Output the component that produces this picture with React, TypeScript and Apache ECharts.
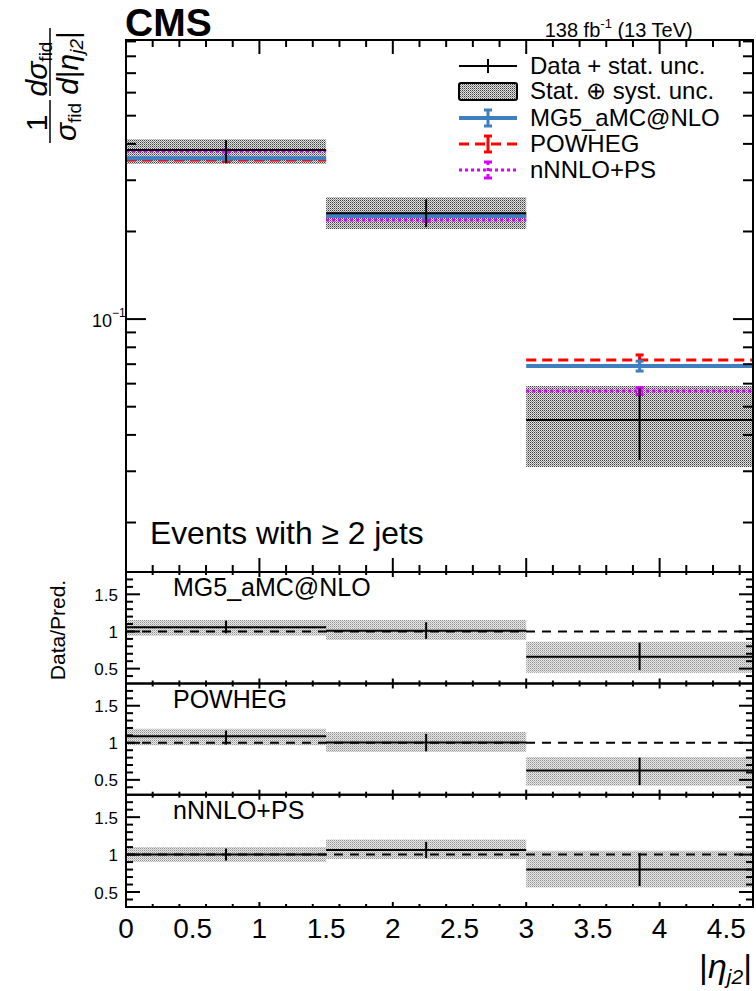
import React, { useEffect, useRef } from 'react';
import * as echarts from 'echarts';

const FONT = '"Liberation Sans", Arial, Helvetica, sans-serif';

// ---------- binning ----------
const binEdges = [0, 1.5, 3, 4.7];
const binCenters = [0.75, 2.25, 3.85];

// ---------- main panel: 1/sigma dsigma/d|eta_j2| ----------
const dataValues = [0.381, 0.231, 0.045];
const dataStatLow = [0.343, 0.207, 0.0328];
const dataStatHigh = [0.412, 0.258, 0.0579];
const dataTotalLow = [0.341, 0.204, 0.031];
const dataTotalHigh = [0.415, 0.262, 0.0589];
const mg5Values = [0.357, 0.226, 0.069];
const mg5Errors = [0.004, 0.003, 0.0027];
const powhegValues = [0.352, 0.2262, 0.0723];
const powhegErrors = [0.004, 0.003, 0.003];
const nnloValues = [0.378, 0.219, 0.0566];
const nnloErrors = [0.003, 0.002, 0.0015];

// ---------- ratio panels: Data / prediction ----------
const ratioNames = ['MG5_aMC@NLO', 'POWHEG', 'nNNLO+PS'];
const ratioMG5 = [1.057, 1.01, 0.66];
const ratioMG5StatLow = [0.976, 0.9, 0.48];
const ratioMG5StatHigh = [1.146, 1.124, 0.85];
const ratioMG5TotalLow = [0.943, 0.885, 0.443];
const ratioMG5TotalHigh = [1.155, 1.155, 0.862];
const ratioPowheg = [1.09, 1.005, 0.625];
const ratioPowhegStatLow = [0.976, 0.885, 0.43];
const ratioPowhegStatHigh = [1.165, 1.12, 0.8];
const ratioPowhegTotalLow = [0.966, 0.875, 0.42];
const ratioPowhegTotalHigh = [1.19, 1.145, 0.81];
const ratioNnlo = [1.0, 1.06, 0.8];
const ratioNnloStatLow = [0.92, 0.955, 0.58];
const ratioNnloStatHigh = [1.08, 1.17, 1.02];
const ratioNnloTotalLow = [0.9, 0.94, 0.56];
const ratioNnloTotalHigh = [1.1, 1.2, 1.05];
const ratioReference = [1];

// ---------- axes ----------
const xRange = [0, 4.7];
const xLabelInterval = 0.5;
const mainYRange = [0.01352, 0.91];
const ratioYRange = [0.3, 1.8];
const xMajorTicks = [0, 1, 2, 3, 4];
const xMinorTicks = [0.2, 0.4, 0.6, 0.8, 1.2, 1.4, 1.6, 1.8, 2.2, 2.4, 2.6, 2.8, 3.2, 3.4, 3.6, 3.8, 4.2, 4.4, 4.6];
const mainYMajorTicks = [0.1];
const mainYMinorTicks = [0.02, 0.03, 0.04, 0.05, 0.06, 0.07, 0.08, 0.09, 0.2, 0.3, 0.4, 0.5, 0.6, 0.7, 0.8, 0.9];
const mainYTickBase = ['10'];
const mainYTickExp = ['\u22121'];
const ratioYMajorTicks = [0.5, 1, 1.5];
const ratioYMinorTicks = [0.4, 0.6, 0.7, 0.8, 0.9, 1.1, 1.2, 1.3, 1.4, 1.6, 1.7];
const ratioYTickLabels = ['0.5', '1', '1.5'];

// ---------- legend ----------
const legendLabels = ['Data + stat. unc.', 'Stat. \u2295 syst. unc.', 'MG5_aMC@NLO', 'POWHEG', 'nNNLO+PS'];

const MG5_COLOR = '#3f7fbf';
const POWHEG_COLOR = '#ff0000';
const NNLO_COLOR = '#d800ff';

let measureCtx: CanvasRenderingContext2D | null = null;
function textWidth(s: string, size: number, italic?: boolean, bold?: boolean) {
  if (!measureCtx) measureCtx = document.createElement('canvas').getContext('2d');
  measureCtx!.font = `${italic ? 'italic ' : ''}${bold ? 'bold ' : ''}${size}px ${FONT}`;
  return measureCtx!.measureText(s).width;
}

type Seg = { t: string; size: number; dy?: number; italic?: boolean; bold?: boolean };
function textStyle(text: string, size: number, align: string, italic?: boolean, bold?: boolean) {
  return {
    text,
    fontSize: size,
    fontFamily: FONT,
    fontStyle: italic ? 'italic' : 'normal',
    fontWeight: bold ? 'bold' : 'normal',
    fill: '#000',
    align,
    textAlign: align,
    verticalAlign: 'middle',
    textVerticalAlign: 'middle',
  };
}
function runText(x: number, y: number, segs: Seg[], align: 'left' | 'center' | 'right') {
  const widths = segs.map((s) => textWidth(s.t, s.size, s.italic, s.bold));
  const total = widths.reduce((a, b) => a + b, 0);
  let cx = align === 'left' ? x : align === 'center' ? x - total / 2 : x - total;
  return segs.map((s, i) => {
    const el = { type: 'text', x: cx, y: y + (s.dy || 0), style: textStyle(s.t, s.size, 'left', s.italic, s.bold) };
    cx += widths[i];
    return el;
  });
}

function makePattern(colors: string[][]) {
  const h = colors.length;
  const w = colors[0].length;
  const c = document.createElement('canvas');
  c.width = w;
  c.height = h;
  const g = c.getContext('2d')!;
  colors.forEach((row, y) =>
    row.forEach((col, x) => {
      g.fillStyle = col;
      g.fillRect(x, y, 1, 1);
    })
  );
  return { image: c, repeat: 'repeat', imageWidth: w, imageHeight: h };
}

function buildOption() {
  const mainPattern = makePattern([
    ['#3c3c3c', '#e2e2e2'],
    ['#e2e2e2', '#8c8c8c'],
  ]);
  const ratioPattern = makePattern([
    ['#8e8e8e', '#e8e8e8'],
    ['#e8e8e8', '#bcbcbc'],
  ]);

  const grids = [
    { left: 126, top: 40, width: 627, height: 532 },
    { left: 126, top: 572, width: 627, height: 111.5 },
    { left: 126, top: 683.5, width: 627, height: 111.2 },
    { left: 126, top: 794.7, width: 627, height: 112.3 },
  ];

  const xAxes = grids.map((_, i) => ({
    gridIndex: i,
    type: 'value',
    min: xRange[0],
    max: xRange[1],
    interval: xLabelInterval,
    position: 'bottom',
    axisLine: { show: false, onZero: false },
    axisTick: { show: false },
    splitLine: { show: false },
    axisLabel: {
      show: i === 3,
      showMaxLabel: false,
      fontSize: 28,
      fontFamily: FONT,
      color: '#000',
      margin: 7,
    },
  }));
  const yAxes: any[] = grids.map((_, i) =>
    i === 0
      ? { gridIndex: 0, type: 'log', logBase: 10, min: mainYRange[0], max: mainYRange[1], show: false }
      : { gridIndex: i, type: 'value', min: ratioYRange[0], max: ratioYRange[1], show: false }
  );

  const bandSeries = (g: number, lows: number[], highs: number[], pattern: any) => ({
    type: 'custom',
    xAxisIndex: g,
    yAxisIndex: g,
    silent: true,
    clip: false,
    data: lows.map((lo, i) => [binEdges[i], binEdges[i + 1], lo, highs[i]]),
    encode: { x: [0, 1], y: [2, 3] },
    renderItem: (params: any, api: any) => {
      const p0 = api.coord([api.value(0), api.value(3)]);
      const p1 = api.coord([api.value(1), api.value(2)]);
      return {
        type: 'rect',
        shape: { x: p0[0], y: p0[1], width: p1[0] - p0[0], height: p1[1] - p0[1] },
        style: { fill: pattern },
      };
    },
  });

  const dataSeries = (g: number, vals: number[], lo: number[], hi: number[]) => ({
    type: 'custom',
    xAxisIndex: g,
    yAxisIndex: g,
    silent: true,
    clip: false,
    data: vals.map((v, i) => [binEdges[i], binEdges[i + 1], v, lo[i], hi[i], binCenters[i]]),
    encode: { x: [0, 1, 5], y: [2, 3, 4] },
    renderItem: (params: any, api: any) => {
      const a = api.coord([api.value(0), api.value(2)]);
      const b = api.coord([api.value(1), api.value(2)]);
      const t = api.coord([api.value(5), api.value(4)]);
      const u = api.coord([api.value(5), api.value(3)]);
      const st = { stroke: '#000', lineWidth: 2 };
      return {
        type: 'group',
        children: [
          { type: 'line', shape: { x1: a[0], y1: a[1], x2: b[0], y2: b[1] }, style: st },
          { type: 'line', shape: { x1: t[0], y1: t[1], x2: u[0], y2: u[1] }, style: st },
        ],
      };
    },
  });

  const theorySeries = (vals: number[], errs: number[], color: string, width: number, dash: number[] | null) => ({
    type: 'custom',
    xAxisIndex: 0,
    yAxisIndex: 0,
    silent: true,
    clip: false,
    data: vals.map((v, i) => [binEdges[i], binEdges[i + 1], v, v - errs[i], v + errs[i], binCenters[i]]),
    encode: { x: [0, 1, 5], y: [2, 3, 4] },
    renderItem: (params: any, api: any) => {
      const a = api.coord([api.value(0), api.value(2)]);
      const b = api.coord([api.value(1), api.value(2)]);
      const t = api.coord([api.value(5), api.value(4)]);
      const u = api.coord([api.value(5), api.value(3)]);
      const ls: any = { stroke: color, lineWidth: width };
      if (dash) ls.lineDash = dash;
      const es: any = { stroke: color, lineWidth: 3 };
      return {
        type: 'group',
        children: [
          { type: 'line', shape: { x1: a[0], y1: a[1], x2: b[0], y2: b[1] }, style: ls },
          { type: 'line', shape: { x1: t[0], y1: t[1], x2: u[0], y2: u[1] }, style: es },
          { type: 'line', shape: { x1: t[0] - 4, y1: t[1], x2: t[0] + 4, y2: t[1] }, style: es },
          { type: 'line', shape: { x1: u[0] - 4, y1: u[1], x2: u[0] + 4, y2: u[1] }, style: es },
        ],
      };
    },
  });

  const referenceSeries = (g: number) => ({
    type: 'custom',
    xAxisIndex: g,
    yAxisIndex: g,
    silent: true,
    clip: false,
    data: ratioReference.map((r) => [xRange[0], xRange[1], r]),
    encode: { x: [0, 1], y: 2 },
    renderItem: (params: any, api: any) => {
      const a = api.coord([api.value(0), api.value(2)]);
      const b = api.coord([api.value(1), api.value(2)]);
      return {
        type: 'line',
        shape: { x1: a[0], y1: a[1], x2: b[0], y2: b[1] },
        style: { stroke: '#000', lineWidth: 2, lineDash: [9, 7] },
      };
    },
  });

  const tickSeries = (
    g: number,
    yRef: number,
    yMajor: number[],
    yMinor: number[],
    lens: { xMaj: number; xMin: number; yMaj: number; yMin: number }
  ) => ({
    type: 'custom',
    xAxisIndex: g,
    yAxisIndex: g,
    silent: true,
    clip: false,
    data: [
      ...xMajorTicks.map((v) => [v, yRef, 0]),
      ...xMinorTicks.map((v) => [v, yRef, 1]),
      ...yMajor.map((v) => [xRange[0], v, 2]),
      ...yMinor.map((v) => [xRange[0], v, 3]),
      [xRange[0], yRef, 4],
    ],
    encode: { x: 0, y: 1 },
    renderItem: (params: any, api: any) => {
      const cs = params.coordSys;
      const kind = api.value(2);
      const p = api.coord([api.value(0), api.value(1)]);
      const st = { stroke: '#000', lineWidth: 2 };
      if (kind === 4) {
        return {
          type: 'rect',
          shape: { x: cs.x, y: cs.y, width: cs.width, height: cs.height },
          style: { fill: 'none', stroke: '#000', lineWidth: 2 },
        };
      }
      if (kind < 2) {
        const L = kind === 0 ? lens.xMaj : lens.xMin;
        return {
          type: 'group',
          children: [
            { type: 'line', shape: { x1: p[0], y1: cs.y, x2: p[0], y2: cs.y + L }, style: st },
            { type: 'line', shape: { x1: p[0], y1: cs.y + cs.height, x2: p[0], y2: cs.y + cs.height - L }, style: st },
          ],
        };
      }
      const L = kind === 2 ? lens.yMaj : lens.yMin;
      return {
        type: 'group',
        children: [
          { type: 'line', shape: { x1: cs.x, y1: p[1], x2: cs.x + L, y2: p[1] }, style: st },
          { type: 'line', shape: { x1: cs.x + cs.width, y1: p[1], x2: cs.x + cs.width - L, y2: p[1] }, style: st },
        ],
      };
    },
  });

  const ratioLabelSeries = (g: number) => ({
    type: 'custom',
    xAxisIndex: g,
    yAxisIndex: g,
    silent: true,
    clip: false,
    data: ratioYMajorTicks.map((v) => [xRange[0], v]),
    encode: { x: 0, y: 1 },
    renderItem: (params: any, api: any) => {
      const p = api.coord([api.value(0), api.value(1)]);
      return { type: 'text', x: p[0] - 8, y: p[1] + 1, style: textStyle(ratioYTickLabels[params.dataIndex], 17, 'right') };
    },
  });

  const mainLabelSeries = {
    type: 'custom',
    xAxisIndex: 0,
    yAxisIndex: 0,
    silent: true,
    clip: false,
    data: mainYMajorTicks.map((v) => [xRange[0], v]),
    encode: { x: 0, y: 1 },
    renderItem: (params: any, api: any) => {
      const p = api.coord([api.value(0), api.value(1)]);
      return {
        type: 'group',
        children: [
          { type: 'text', x: p[0] - 14, y: p[1] + 2, style: textStyle(mainYTickBase[params.dataIndex], 18, 'right') },
          { type: 'text', x: p[0] - 14, y: p[1] - 6, style: textStyle(mainYTickExp[params.dataIndex], 12, 'left') },
        ],
      };
    },
  };

  const mainTickLens = { xMaj: 14, xMin: 7, yMaj: 20, yMin: 10 };
  const ratioTickLens = { xMaj: 5, xMin: 3, yMaj: 14, yMin: 7 };

  const ratioSets = [
    [ratioMG5, ratioMG5StatLow, ratioMG5StatHigh, ratioMG5TotalLow, ratioMG5TotalHigh],
    [ratioPowheg, ratioPowhegStatLow, ratioPowhegStatHigh, ratioPowhegTotalLow, ratioPowhegTotalHigh],
    [ratioNnlo, ratioNnloStatLow, ratioNnloStatHigh, ratioNnloTotalLow, ratioNnloTotalHigh],
  ];

  const series: any[] = [
    bandSeries(0, dataTotalLow, dataTotalHigh, mainPattern),
    theorySeries(powhegValues, powhegErrors, POWHEG_COLOR, 3, [10, 6]),
    theorySeries(nnloValues, nnloErrors, NNLO_COLOR, 3, [3, 3]),
    theorySeries(mg5Values, mg5Errors, MG5_COLOR, 4, null),
    dataSeries(0, dataValues, dataStatLow, dataStatHigh),
    tickSeries(0, 0.1, mainYMajorTicks, mainYMinorTicks, mainTickLens),
    mainLabelSeries,
  ];
  ratioSets.forEach((set, k) => {
    const g = k + 1;
    series.push(bandSeries(g, set[3], set[4], ratioPattern));
    series.push(referenceSeries(g));
    series.push(dataSeries(g, set[0], set[1], set[2]));
    series.push(tickSeries(g, 1, ratioYMajorTicks, ratioYMinorTicks, ratioTickLens));
    series.push(ratioLabelSeries(g));
  });

  // ---------- graphic: titles, legend, annotations ----------
  const graphic: any[] = [];
  graphic.push({ type: 'text', x: 125, y: 22, style: textStyle('CMS', 39, 'left', false, true) });
  graphic.push(...runText(693, 30, [
    { t: '138 fb', size: 20 },
    { t: '-1', size: 13, dy: -7 },
    { t: ' (13 TeV)', size: 20 },
  ], 'right'));
  graphic.push({ type: 'text', x: 150, y: 533, style: textStyle('Events with \u2265 2 jets', 31.8, 'left') });

  // y-axis title (rotated fraction)
  graphic.push({
    type: 'group',
    x: 50,
    y: 145,
    rotation: Math.PI / 2,
    children: [
      { type: 'line', shape: { x1: 2, y1: 0, x2: 45, y2: 0 }, style: { stroke: '#000', lineWidth: 1.5 } },
      ...runText(22, -14, [{ t: '1', size: 30 }], 'center'),
      ...runText(23, 15, [{ t: '\u03c3', size: 30, italic: true }, { t: 'fid', size: 19, dy: 9 }], 'center'),
      { type: 'line', shape: { x1: 49, y1: 0, x2: 117, y2: 0 }, style: { stroke: '#000', lineWidth: 1.5 } },
      ...runText(76, -14, [{ t: 'd\u03c3', size: 30, italic: true }, { t: 'fid', size: 19, dy: 9 }], 'center'),
      ...runText(82, 17, [
        { t: 'd', size: 30, italic: true },
        { t: '|', size: 30 },
        { t: '\u03b7', size: 30, italic: true },
        { t: 'j2', size: 19, dy: 9, italic: true },
        { t: '|', size: 30 },
      ], 'center'),
    ],
  });

  // x-axis title
  graphic.push(...runText(752, 966, [
    { t: '|', size: 34 },
    { t: '\u03b7', size: 34, italic: true },
    { t: 'j2', size: 21, dy: 10, italic: true },
    { t: '|', size: 34 },
  ], 'right'));

  // ratio y title
  graphic.push({
    type: 'text',
    x: 57,
    y: 630,
    rotation: Math.PI / 2,
    style: textStyle('Data/Pred.', 21, 'center'),
  });

  // ratio panel names
  const ratioNameY = [587, 698.5, 810];
  ratioNames.forEach((n, i) => {
    graphic.push({ type: 'text', x: 173, y: ratioNameY[i], style: textStyle(n, 25, 'left') });
  });

  // legend
  const lx0 = 459;
  const lx1 = 517;
  const lxc = 488;
  const symY = [66, 91, 118, 144, 170];
  const txtY = [65, 90, 117, 143, 169];
  const blk = { stroke: '#000', lineWidth: 2 };
  graphic.push({ type: 'line', shape: { x1: lx0, y1: symY[0], x2: lx1, y2: symY[0] }, style: blk });
  graphic.push({ type: 'line', shape: { x1: lxc, y1: symY[0] - 7, x2: lxc, y2: symY[0] + 7 }, style: blk });
  graphic.push({
    type: 'rect',
    shape: { x: lx0, y: symY[1] - 8, width: lx1 - lx0, height: 17, r: 2 },
    style: { fill: mainPattern, stroke: '#000', lineWidth: 2 },
  });
  const legendTheory: [number, string, number, number[] | null][] = [
    [2, MG5_COLOR, 4, null],
    [3, POWHEG_COLOR, 3, [10, 6]],
    [4, NNLO_COLOR, 3, [3, 3]],
  ];
  legendTheory.forEach(([row, color, w, dash]) => {
    const y = symY[row];
    const ls: any = { stroke: color, lineWidth: w };
    if (dash) ls.lineDash = dash;
    const es: any = { stroke: color, lineWidth: 3 };
    if (row === 4) es.lineDash = [3, 3];
    graphic.push({ type: 'line', shape: { x1: lx0, y1: y, x2: lx1, y2: y }, style: ls });
    graphic.push({ type: 'line', shape: { x1: lxc, y1: y - 8, x2: lxc, y2: y + 8 }, style: es });
    graphic.push({ type: 'line', shape: { x1: lxc - 4, y1: y - 8, x2: lxc + 4, y2: y - 8 }, style: { stroke: color, lineWidth: 3 } });
    graphic.push({ type: 'line', shape: { x1: lxc - 4, y1: y + 8, x2: lxc + 4, y2: y + 8 }, style: { stroke: color, lineWidth: 3 } });
  });
  legendLabels.forEach((t, i) => {
    graphic.push({ type: 'text', x: 530, y: txtY[i], style: textStyle(t, 24, 'left') });
  });

  return {
    animation: false,
    backgroundColor: '#fff',
    grid: grids.map((g) => ({ ...g, containLabel: false })),
    xAxis: xAxes,
    yAxis: yAxes,
    series,
    graphic,
  };
}

export default function App() {
  const ref = useRef<HTMLDivElement>(null);
  useEffect(() => {
    if (!ref.current) return;
    const chart = echarts.init(ref.current, null, { renderer: 'svg' });
    chart.setOption(buildOption() as any);
    return () => chart.dispose();
  }, []);
  return (
    <div
      ref={ref}
      style={{ position: 'absolute', left: 0, top: 0, width: 756, height: 991, background: '#fff' }}
    />
  );
}
